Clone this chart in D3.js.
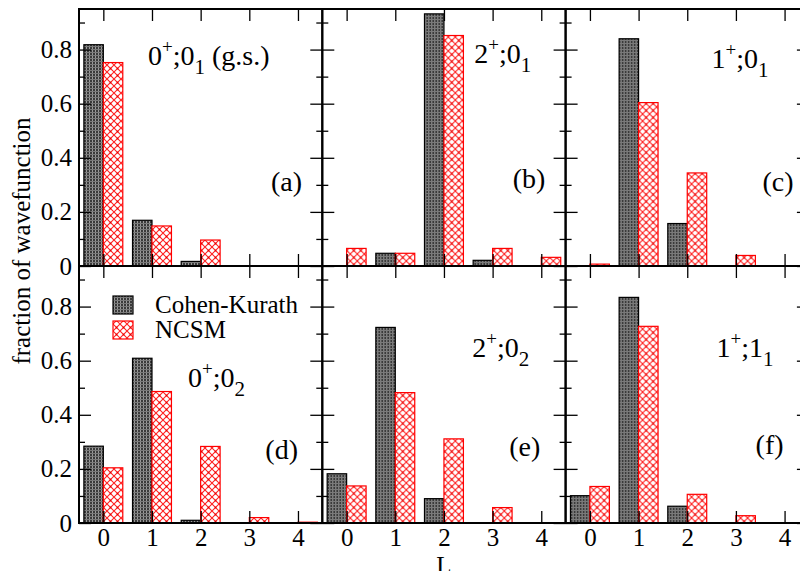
<!DOCTYPE html>
<html lang="en">
<head>
<meta charset="UTF-8">
<title>fraction of wavefunction</title>
<script src="https://d3js.org/d3.v7.min.js"></script>
<style>
  body { margin: 0; background: #fff; overflow: hidden; }
  text { font-family: "Liberation Serif", "DejaVu Serif", serif; fill: #000; }
</style>
</head>
<body>
<div id="chart"></div>
<script>
// data
const Lvals = [0, 1, 2, 3, 4];
const yTicks = [0, 0.2, 0.4, 0.6, 0.8];
const yMinor = [0.1, 0.3, 0.5, 0.7, 0.9];
const panelIds = ["(a)", "(b)", "(c)", "(d)", "(e)", "(f)"];
const stateJ = ["0", "2", "1", "0", "2", "1"];
const stateT = ["0", "0", "0", "0", "0", "1"];
const stateN = ["1", "1", "1", "2", "2", "1"];
const stateExtra = [" (g.s.)", "", "", "", "", ""];
const seriesNames = ["Cohen-Kurath", "NCSM"];

const ckA = [0.818, 0.169, 0.017, 0, 0];
const ncsmA = [0.752, 0.148, 0.096, 0, 0];
const ckB = [0, 0.047, 0.932, 0.021, 0];
const ncsmB = [0.065, 0.047, 0.852, 0.065, 0.032];
const ckC = [0, 0.840, 0.157, 0, 0];
const ncsmC = [0.007, 0.604, 0.344, 0.039, 0];
const ckD = [0.284, 0.609, 0.010, 0, 0];
const ncsmD = [0.204, 0.486, 0.283, 0.020, 0.003];
const ckE = [0.182, 0.723, 0.090, 0, 0];
const ncsmE = [0.137, 0.482, 0.311, 0.057, 0];
const ckF = [0.101, 0.834, 0.062, 0, 0];
const ncsmF = [0.135, 0.727, 0.106, 0.027, 0];

const ckAll = [ckA, ckB, ckC, ckD, ckE, ckF];
const ncsmAll = [ncsmA, ncsmB, ncsmC, ncsmD, ncsmE, ncsmF];

// layout
const W = 800, H = 571;
const marginLeft = 79, marginTop = 9;
const pw = 243.3, ph = 257;
const titlePos = [[69, 56], [152, 54], [146, 59], [109, 121], [150, 91], [151, 91]];
const idPos = [[223, 182], [223, 179], [228, 182], [219, 193], [218, 190], [218, 188]];

const svg = d3.select("#chart").append("svg")
  .attr("width", W).attr("height", H);

// patterns
const defs = svg.append("defs");
const pCK = defs.append("pattern").attr("id", "pCK")
  .attr("patternUnits", "userSpaceOnUse").attr("width", 3).attr("height", 3);
pCK.append("rect").attr("width", 3).attr("height", 3).attr("fill", "#3a3a3a");
pCK.append("rect").attr("x", 1).attr("y", 0).attr("width", 1).attr("height", 3).attr("fill", "#9a9a9a");
pCK.append("rect").attr("x", 0).attr("y", 1).attr("width", 3).attr("height", 1).attr("fill", "#7a7a7a");

const pN = defs.append("pattern").attr("id", "pNCSM")
  .attr("patternUnits", "userSpaceOnUse").attr("width", 7).attr("height", 7);
pN.append("rect").attr("width", 7).attr("height", 7).attr("fill", "#fff");
pN.append("path").attr("d", "M0,0L7,7M7,0L0,7").attr("stroke", "#ff2020").attr("stroke-width", 1.1);
pN.append("rect").attr("x", 2.7).attr("y", 2.7).attr("width", 1.6).attr("height", 1.6).attr("fill", "#e00000");

const x = d3.scaleLinear().domain([-0.5, 4.5]).range([0, pw]);
const y = d3.scaleLinear().domain([0, 0.95]).range([ph, 0]);
const barW = x(0.4) - x(0);

panelIds.forEach((pid, i) => {
  const col = i % 3, row = Math.floor(i / 3);
  const g = svg.append("g").attr("transform", `translate(${marginLeft + col * pw},${marginTop + row * ph})`);

  // bars
  g.selectAll(".ck").data(Lvals.map((L, k) => ({ L, v: ckAll[i][k] })).filter(d => d.v > 0))
    .join("rect")
    .attr("x", d => x(d.L) - barW).attr("width", barW)
    .attr("y", d => y(d.v)).attr("height", d => y(0) - y(d.v))
    .attr("fill", "url(#pCK)").attr("stroke", "#000").attr("stroke-width", 1.2);
  g.selectAll(".nc").data(Lvals.map((L, k) => ({ L, v: ncsmAll[i][k] })).filter(d => d.v > 0))
    .join("rect")
    .attr("x", d => x(d.L)).attr("width", barW)
    .attr("y", d => y(d.v)).attr("height", d => y(0) - y(d.v))
    .attr("fill", "url(#pNCSM)").attr("stroke", "#ff0000").attr("stroke-width", 1.2);

  // axes with inward ticks on all sides
  const fmt = d => d === 0 ? "0" : d3.format(".1f")(d);
  const ax = [
    g.append("g").call(d3.axisLeft(y).tickValues(yTicks).tickSize(-12).tickSizeOuter(0).tickPadding(7).tickFormat(fmt)),
    g.append("g").call(d3.axisLeft(y).tickValues(yMinor).tickSize(-6).tickSizeOuter(0).tickFormat("")),
    g.append("g").attr("transform", `translate(${pw},0)`).call(d3.axisRight(y).tickValues(yTicks).tickSize(-12).tickSizeOuter(0).tickFormat("")),
    g.append("g").attr("transform", `translate(${pw},0)`).call(d3.axisRight(y).tickValues(yMinor).tickSize(-6).tickSizeOuter(0).tickFormat("")),
    g.append("g").attr("transform", `translate(0,${ph})`).call(d3.axisBottom(x).tickValues(Lvals).tickSize(-12).tickSizeOuter(0).tickPadding(5).tickFormat(d3.format("d"))),
    g.append("g").call(d3.axisTop(x).tickValues(Lvals).tickSize(-12).tickSizeOuter(0).tickFormat(""))
  ];
  ax.forEach(a => {
    a.select(".domain").remove();
    a.selectAll("line").attr("stroke", "#000").attr("stroke-width", 1.3);
    a.selectAll("text").style("font-family", '"Liberation Serif", serif').style("font-size", "25px").attr("fill", "#000");
  });
  if (col !== 0) ax[0].selectAll("text").remove();
  if (row !== 1) ax[4].selectAll("text").remove();

  g.append("rect").attr("width", pw).attr("height", ph)
    .attr("fill", "none").attr("stroke", "#000").attr("stroke-width", 2);

  // state label
  const t = g.append("text").attr("x", titlePos[i][0]).attr("y", titlePos[i][1]).style("font-size", "28px");
  t.append("tspan").text(stateJ[i]);
  t.append("tspan").attr("dy", -12).style("font-size", "19px").text("+");
  t.append("tspan").attr("dy", 12).text(";" + stateT[i]);
  t.append("tspan").attr("dy", 9).style("font-size", "21px").text(stateN[i]);
  if (stateExtra[i]) t.append("tspan").attr("dy", -9).text(stateExtra[i]);

  g.append("text").attr("x", idPos[i][0]).attr("y", idPos[i][1])
    .attr("text-anchor", "end").style("font-size", "28px").text(pid);

  // legend in panel (d)
  if (i === 3) {
    const lg = g.append("g").attr("transform", "translate(34,30)");
    seriesNames.forEach((s, k) => {
      lg.append("rect").attr("x", 0).attr("y", k * 25).attr("width", 20).attr("height", 18)
        .attr("fill", k === 0 ? "url(#pCK)" : "url(#pNCSM)")
        .attr("stroke", k === 0 ? "#000" : "#ff0000").attr("stroke-width", 1.2);
      lg.append("text").attr("x", 42).attr("y", k * 25 + 17).style("font-size", "25px").text(s);
    });
  }
});

// axis titles
svg.append("text").attr("x", marginLeft + 1.5 * pw).attr("y", 574)
  .attr("text-anchor", "middle").style("font-size", "25px").text("L");
svg.append("text")
  .attr("transform", `translate(30,${241}) rotate(-90)`)
  .attr("text-anchor", "middle").style("font-size", "25px").text("fraction of wavefunction");
</script>
</body>
</html>
